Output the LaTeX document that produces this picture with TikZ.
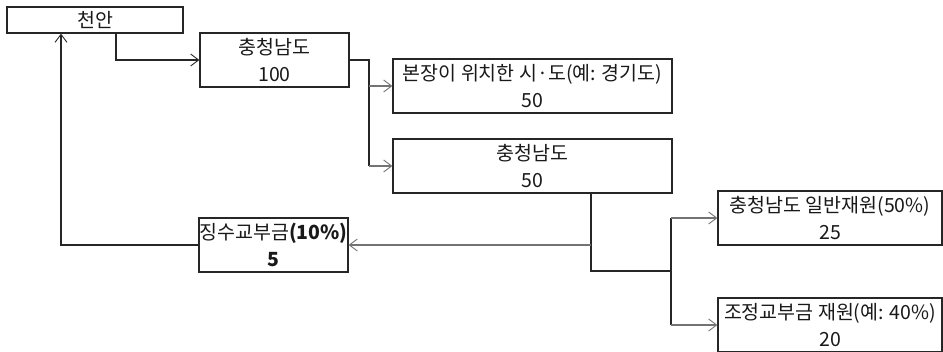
\documentclass[tikz,border=0pt]{standalone}
\usepackage{fontspec}
\setmainfont{Noto Sans CJK KR}
\usetikzlibrary{arrows.meta}
\begin{document}
\begin{tikzpicture}[x=1pt,y=-1pt,
  box/.style={draw=black!85,line width=1.3pt,fill=white,inner sep=0pt,align=center,
    font=\fontsize{19.5}{27}\selectfont,text=black!90},
  trunk/.style={draw=black!85,line width=1.2pt},
  branch/.style={draw=black!55,line width=1.2pt,-{Straight Barb[length=8pt,width=12pt,line width=0.9pt]}},
  trunkarrow/.style={draw=black!85,line width=1.2pt,-{Straight Barb[length=8pt,width=12pt,line width=0.9pt]}}]
\useasboundingbox (0,0) rectangle (943,351);
\fill[white] (0,0) rectangle (943,351);

\node[box,minimum width=176pt,minimum height=26pt] (cheonan) at (95,20) {천안};
\node[box,minimum width=149pt,minimum height=54pt] (cn100) at (274.5,60) {충청남도\\100};
\node[box,minimum width=279pt,minimum height=54pt] (bonjang) at (532.5,86) {본장이 위치한 시·도(예: 경기도)\\50};
\node[box,minimum width=279pt,minimum height=54pt] (cn50) at (532.5,166) {충청남도\\50};
\node[box,minimum width=149pt,minimum height=54pt] (jingsu) at (273.5,245) {징수교부금\textbf{(10\%)}\\\textbf{5}};
\node[box,minimum width=224pt,minimum height=54pt] (ilban) at (830,218) {충청남도 일반재원(50\%)\\25};
\node[box,minimum width=224pt,minimum height=54pt] (jojeong) at (830,325) {조정교부금 재원(예: 40\%)\\20};

\coordinate (c1) at (116,60);
\coordinate (c2) at (369,60);
\coordinate (c3) at (591,192);
\coordinate (c3b) at (591,271);
\coordinate (c5) at (671,271);
\coordinate (c4) at (61,245);

% 천안 -> 충청남도 100
\draw[trunkarrow] (cheonan.south -| c1) |- (cn100.west);
% 충청남도 100 -> split
\draw[trunk] (cn100.east) -- (c2) -- (c2 |- cn50.west);
\draw[branch] (c2 |- bonjang.west) -- (bonjang.west);
\draw[branch] (c2 |- cn50.west) -- (cn50.west);
% 충청남도 50 -> split
\draw[trunk] (c3) -- (c3b) -- (c5);
\draw[trunk] (c5 |- ilban.west) -- (c5 |- jojeong.west);
\draw[branch] (c3 |- jingsu.east) -- (jingsu.east);
\draw[branch] (c5 |- ilban.west) -- (ilban.west);
\draw[branch] (c5 |- jojeong.west) -- (jojeong.west);
% 징수교부금 -> 천안
\draw[trunkarrow] (jingsu.west) -| (cheonan.south -| c4);
\end{tikzpicture}
\end{document}
